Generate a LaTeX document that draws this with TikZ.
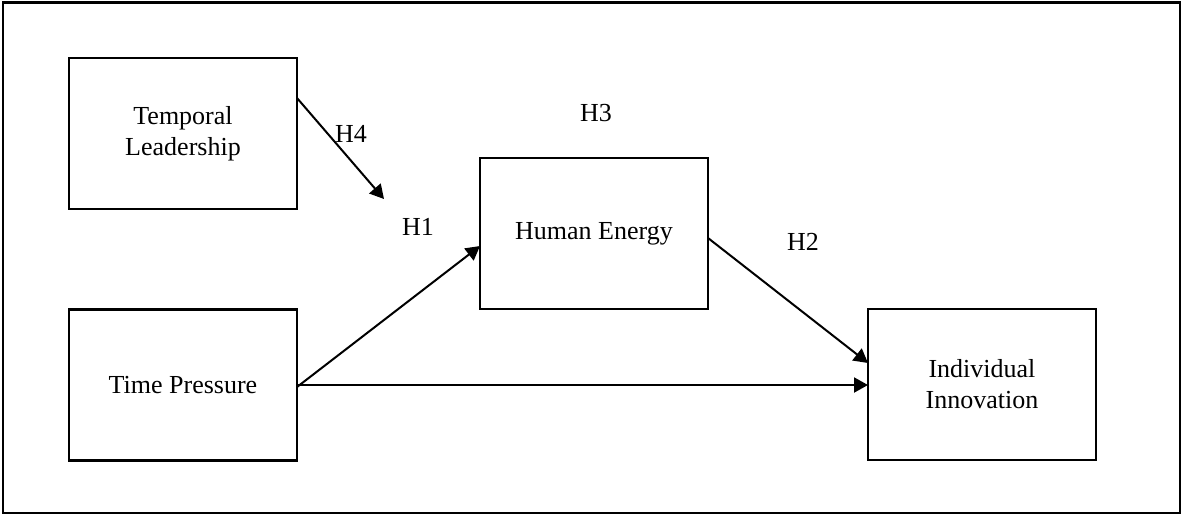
\documentclass[tikz,border=0pt]{standalone}
\usepackage{fontspec}
\setmainfont{Liberation Serif}
\usetikzlibrary{arrows.meta,calc}
\begin{document}
\begin{tikzpicture}[x=0.5pt,y=-0.5pt,
  construct/.style={draw,line width=1.2pt,minimum width=114pt,minimum height=75.5pt,
    inner sep=0pt,outer sep=0pt,align=center,font=\fontsize{13}{15.5}\selectfont},
  hyp/.style={inner sep=0pt,font=\fontsize{13}{15.5}\selectfont},
  link/.style={line width=1pt,-{Triangle[length=7pt,width=7.5pt]}}]
  \useasboundingbox (0,0) rectangle (1183,516);
  % outer frame
  \draw[line width=1.2pt] (3,2.5) rectangle (1180,513);

  % constructs
  \node[construct] (tl) at (183,133.5) {Temporal\\Leadership};
  \node[construct] (tp) at (183,385) {Time Pressure};
  \node[construct] (he) at (594,233.5) {Human Energy};
  \node[construct] (ii) at (982,384.5) {Individual\\Innovation};

  % hypothesis labels
  \node[hyp] (h4) at (351,133.5) {H4};
  \node[hyp] (h3) at (596,113) {H3};
  \node[hyp] (h1) at (418,227) {H1};
  \node[hyp] (h2) at (803,241.5) {H2};

  % paths
  \coordinate (h4tip) at (384,199);
  \draw[link] ($(tl.north east)!0.265!(tl.south east)$) -- (h4tip);
  \draw[link] ($(tp.east)+(0,2)$) -- ($(he.west)+(0,12.5)$);
  \draw[link] (tp.east) -- (tp.east -| ii.west);
  \draw[link] ($(he.east)+(0,4.5)$) -- ($(ii.west)+(0,-21.5)$);
\end{tikzpicture}
\end{document}
